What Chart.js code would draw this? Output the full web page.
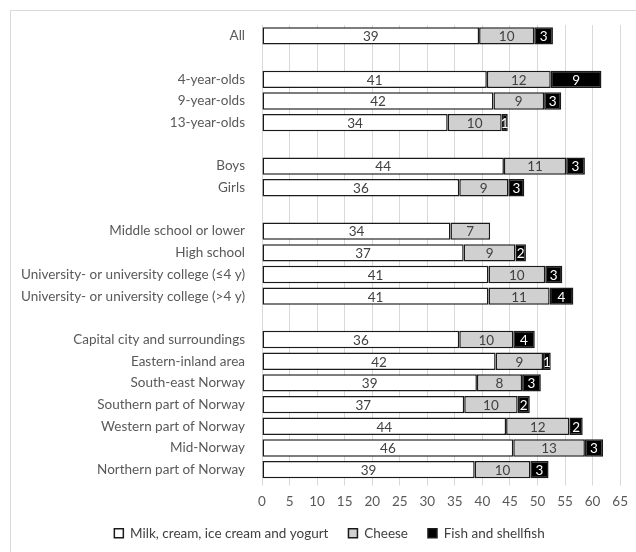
<!DOCTYPE html>
<html>
<head>
<meta charset="utf-8">
<script src="https://cdn.jsdelivr.net/npm/chart.js@4.4.1/dist/chart.umd.min.js"></script>
<style>
  html, body { margin: 0; padding: 0; background: #fff; }
  #wrap { position: relative; width: 636px; height: 552px; overflow: hidden; }
  #frame { position: absolute; left: 10px; top: 10px; width: 640px; height: 560px; border: 1px solid #d9d9d9; box-sizing: border-box; }
  canvas { position: absolute; left: 0; top: 0; }
</style>
</head>
<body>
<div id="wrap">
  <div id="frame"></div>
  <canvas id="chart" width="636" height="552"></canvas>
</div>
<script>
// rows (blank strings are spacer rows between groups)
const categories = [
  "All", "",
  "4-year-olds", "9-year-olds", "13-year-olds", "",
  "Boys", "Girls", "",
  "Middle school or lower", "High school",
  "University- or university college (\u22644 y)",
  "University- or university college (>4 y)", "",
  "Capital city and surroundings", "Eastern-inland area", "South-east Norway",
  "Southern part of Norway", "Western part of Norway", "Mid-Norway", "Northern part of Norway"
];

const milk   = [39.4, null, 40.8, 42.0, 33.7, null, 43.9, 35.8, null, 34.2, 36.6, 41.1, 41.1, null, 35.8, 42.4, 39.0, 36.7, 44.3, 45.6, 38.6];
const cheese = [10.0, null, 11.6,  9.2,  9.8, null, 11.3,  8.9, null,  7.2,  9.4, 10.3, 11.1, null,  9.8,  8.6,  8.2,  9.7, 11.5, 13.0, 10.1];
const fish   = [ 3.4, null,  9.2,  3.1,  1.1, null,  3.4,  2.9, null,  0,    1.9,  3.1,  4.3, null,  3.9,  1.4,  3.4,  2.2,  2.4,  3.3,  3.3];

const seriesNames = ["Milk, cream, ice cream and yogurt", "Cheese", "Fish and shellfish"];
const xMin = 0, xMax = 65, xStep = 5;

const FONT = "Lato, 'Liberation Sans', sans-serif";
const FSIZE = 13.5;

// draws the rounded value in the middle of each segment
const segmentLabels = {
  id: "segmentLabels",
  afterDatasetsDraw(chart) {
    const ctx = chart.ctx;
    ctx.save();
    ctx.font = FSIZE + "px " + FONT;
    ctx.textAlign = "center";
    ctx.textBaseline = "middle";
    chart.data.datasets.forEach((ds, i) => {
      const meta = chart.getDatasetMeta(i);
      meta.data.forEach((bar, j) => {
        const v = ds.data[j];
        if (!v) return;
        const p = bar.getProps(["x", "y", "base"], true);
        ctx.fillStyle = i === 2 ? "#ffffff" : "#404040";
        ctx.fillText(Math.round(v), (p.x + p.base) / 2, p.y + 1);
      });
    });
    ctx.restore();
  }
};

// the original legend sits a little right of the canvas centre
const legendShift = {
  id: "legendShift",
  afterLayout(chart) {
    const lg = chart.legend;
    if (!lg) return;
    lg.left += 18;
    lg.right += 18;
  }
};

new Chart(document.getElementById("chart"), {
  type: "bar",
  data: {
    labels: categories,
    datasets: [
      { label: seriesNames[0], data: milk,   backgroundColor: "#ffffff" },
      { label: seriesNames[1], data: cheese, backgroundColor: "#d0d0d0" },
      { label: seriesNames[2], data: fish,   backgroundColor: "#000000" }
    ].map(d => Object.assign(d, {
      borderColor: "#1a1a1a",
      borderWidth: 1.5,
      borderSkipped: false,
      barPercentage: 0.8,
      categoryPercentage: 1
    }))
  },
  options: {
    indexAxis: "y",
    responsive: false,
    animation: false,
    layout: { padding: { top: 25, right: 13, bottom: 2, left: 0 } },
    plugins: {
      legend: {
        position: "bottom",
        labels: {
          boxWidth: 9,
          boxHeight: 9,
          padding: 20,
          color: "#404040",
          font: { family: FONT, size: FSIZE }
        }
      },
      tooltip: { enabled: false }
    },
    scales: {
      x: {
        stacked: true,
        min: xMin,
        max: xMax,
        border: { display: false },
        grid: { color: "#d9d9d9", lineWidth: 1, drawTicks: true, tickLength: 5 },
        ticks: { stepSize: xStep, padding: 8, color: "#595959", font: { family: FONT, size: FSIZE }, maxRotation: 0 },
        afterFit(scale) { scale.height = 26; }
      },
      y: {
        stacked: true,
        border: { display: false },
        grid: { display: false, drawTicks: false },
        ticks: { padding: 17, color: "#595959", font: { family: FONT, size: FSIZE }, autoSkip: false },
        afterFit(scale) { scale.width = 262; }
      }
    }
  },
  plugins: [segmentLabels, legendShift]
});
</script>
</body>
</html>
